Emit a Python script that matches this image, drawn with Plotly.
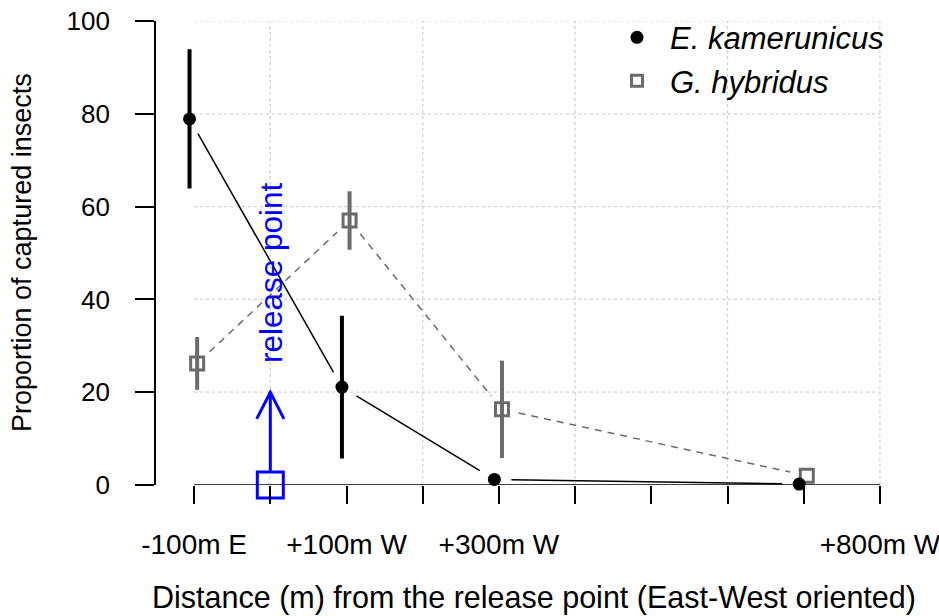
import math
import plotly.graph_objects as go

# ---- data -------------------------------------------------------------
# plotting positions along the transect axis and their tick labels
tick_positions = [-100, 0, 100, 200, 300, 400, 500, 600, 700, 800]
tick_labels = ["-100m E", "", "+100m W", "", "+300m W", "", "", "", "", "+800m W"]

trap_positions = [-100, 100, 300, 700]

# proportion of captured insects (%) and half-width of the error bars
ek_name = "E. kamerunicus"
ek_values = [78.9, 21.1, 1.2, 0.2]
ek_errors = [15.0, 15.4, 0.0, 0.0]

gh_name = "G. hybridus"
gh_values = [26.2, 57.0, 16.3, 2.0]
gh_errors = [5.7, 6.3, 10.5, 0.0]

release_x = 0
release_arrow = [3, 20]
release_label = "release point"

y_ticks = [0, 20, 40, 60, 80, 100]
grid_x = [0, 200, 400, 600, 800]
grid_y = [20, 40, 60, 80, 100]

# ---- geometry ----------------------------------------------------------
W, H = 939, 616
M_L, M_R, M_T, M_B = 156, 24, 20, 131
X_RANGE = [-150, 846]
Y_RANGE = [0, 100]
plot_w = W - M_L - M_R
plot_h = H - M_T - M_B
kx = plot_w / (X_RANGE[1] - X_RANGE[0])   # px per x unit
ky = plot_h / (Y_RANGE[1] - Y_RANGE[0])   # px per y unit

FONT = "Liberation Sans, Arial, sans-serif"
BLACK = "#000000"
GREY = "#6b6b6b"
BLUE = "#0000ff"
GRID = "#cfcfcf"

EK_SHIFT = -6   # small horizontal dodge so the two series do not overlap
GH_SHIFT = 4


def gapped_segments(xs, ys, gap_px=17):
    """Line pieces between consecutive points, leaving a gap round each point."""
    sx, sy = [], []
    for (x1, y1), (x2, y2) in zip(zip(xs, ys), zip(xs[1:], ys[1:])):
        dx, dy = (x2 - x1) * kx, (y2 - y1) * ky
        L = math.hypot(dx, dy)
        if L <= 2 * gap_px:
            continue
        f = gap_px / L
        sx += [x1 + f * (x2 - x1), x2 - f * (x2 - x1), None]
        sy += [y1 + f * (y2 - y1), y2 - f * (y2 - y1), None]
    return sx, sy


fig = go.Figure()

ek_x = [p + EK_SHIFT for p in trap_positions]
gh_x = [p + GH_SHIFT for p in trap_positions]

# connecting lines
lx, ly = gapped_segments(gh_x, gh_values)
fig.add_trace(go.Scatter(x=lx, y=ly, mode="lines", showlegend=False, hoverinfo="skip",
                         line=dict(color=GREY, width=1.5, dash="7px,6px")))
lx, ly = gapped_segments(ek_x, ek_values)
fig.add_trace(go.Scatter(x=lx, y=ly, mode="lines", showlegend=False, hoverinfo="skip",
                         line=dict(color=BLACK, width=1.5)))

# points with error bars
fig.add_trace(go.Scatter(
    x=gh_x, y=gh_values, mode="markers", name=gh_name, showlegend=False, cliponaxis=False,
    marker=dict(symbol="square-open", size=13, color=GREY, line=dict(width=3, color=GREY)),
    error_y=dict(type="data", array=gh_errors, visible=True, color=GREY, thickness=4, width=0),
))
fig.add_trace(go.Scatter(
    x=ek_x, y=ek_values, mode="markers", name=ek_name, showlegend=False, cliponaxis=False,
    marker=dict(symbol="circle", size=13, color=BLACK),
    error_y=dict(type="data", array=ek_errors, visible=True, color=BLACK, thickness=4, width=0),
))

# release point marker
fig.add_trace(go.Scatter(
    x=[release_x], y=[0], mode="markers", showlegend=False, cliponaxis=False, hoverinfo="skip",
    marker=dict(symbol="square-open", size=26, color=BLUE, line=dict(width=3, color=BLUE)),
))

# legend entries (symbols only)
fig.add_trace(go.Scatter(x=[None], y=[None], mode="markers", name=ek_name,
                         marker=dict(symbol="circle", size=13, color=BLACK)))
fig.add_trace(go.Scatter(x=[None], y=[None], mode="markers", name=gh_name,
                         marker=dict(symbol="square-open", size=11, color=GREY,
                                     line=dict(width=3, color=GREY))))

shapes = []
for gx in grid_x:
    shapes.append(dict(type="line", xref="x", yref="y", x0=gx, x1=gx, y0=Y_RANGE[0], y1=Y_RANGE[1],
                       line=dict(color=GRID, width=1.2, dash="dot"), layer="below"))
for gy in grid_y:
    shapes.append(dict(type="line", xref="x", yref="y", x0=tick_positions[0], x1=tick_positions[-1],
                       y0=gy, y1=gy, line=dict(color=GRID, width=1.2, dash="dot"), layer="below"))
# x axis line spanning the first to the last tick
shapes.append(dict(type="line", xref="x", yref="y", x0=tick_positions[0], x1=tick_positions[-1],
                   y0=0, y1=0, line=dict(color=BLACK, width=1.6), layer="below"))

# release arrow: shaft plus open head
y0, y1 = release_arrow
shapes.append(dict(type="line", xref="x", yref="y", x0=release_x, x1=release_x, y0=y0, y1=y1,
                   line=dict(color=BLUE, width=3)))
head_len, head_ang = 30, math.radians(27)
hx = head_len * math.sin(head_ang) / kx
hy = head_len * math.cos(head_ang) / ky
shapes.append(dict(type="path", xref="x", yref="y",
                   path=f"M {release_x - hx} {y1 - hy} L {release_x} {y1} L {release_x + hx} {y1 - hy}",
                   line=dict(color=BLUE, width=3)))

annotations = [
    dict(text=release_label, x=release_x, y=25.8, xref="x", yref="y", textangle=-90,
         xanchor="center", yanchor="bottom", showarrow=False,
         font=dict(family=FONT, size=31.5, color=BLUE)),
    dict(text="Proportion of captured insects", xref="paper", yref="paper",
         x=(22 - M_L) / plot_w, y=0.5, xanchor="center", yanchor="middle", textangle=-90,
         showarrow=False, font=dict(family=FONT, size=27, color=BLACK)),
    dict(text="Distance (m) from the release point (East-West oriented)", xref="paper", yref="paper",
         x=(534 - M_L) / plot_w, y=-(598 - (M_T + plot_h)) / plot_h, xanchor="center", yanchor="middle",
         showarrow=False, font=dict(family=FONT, size=30.5, color=BLACK)),
]

fig.update_layout(
    width=W, height=H, autosize=False,
    margin=dict(l=M_L, r=M_R, t=M_T, b=M_B, pad=0),
    paper_bgcolor="white", plot_bgcolor="white",
    font=dict(family=FONT, color=BLACK),
    shapes=shapes, annotations=annotations,
    showlegend=True,
    legend=dict(x=(604 - M_L) / plot_w, y=1.02, xanchor="left", yanchor="top",
                bgcolor="rgba(0,0,0,0)", borderwidth=0, itemwidth=56,
                font=dict(family=FONT, size=31, color=BLACK, style="italic")),
    xaxis=dict(range=X_RANGE, tickmode="array", tickvals=tick_positions, ticktext=tick_labels,
               ticks="outside", ticklen=18, tickwidth=1.6, tickcolor=BLACK, automargin=False,
               ticklabeloverflow="allow",
               showline=False, showgrid=False, zeroline=False, ticklabelstandoff=16,
               tickfont=dict(family=FONT, size=28, color=BLACK), fixedrange=True),
    yaxis=dict(range=Y_RANGE, tickmode="array", tickvals=y_ticks, automargin=False,
               ticks="outside", ticklen=19, tickwidth=1.6, tickcolor=BLACK,
               showline=True, linecolor=BLACK, linewidth=1.6, showgrid=False, zeroline=False,
               ticklabelstandoff=20, tickfont=dict(family=FONT, size=26, color=BLACK), fixedrange=True),
)

fig.write_html("out.html")
